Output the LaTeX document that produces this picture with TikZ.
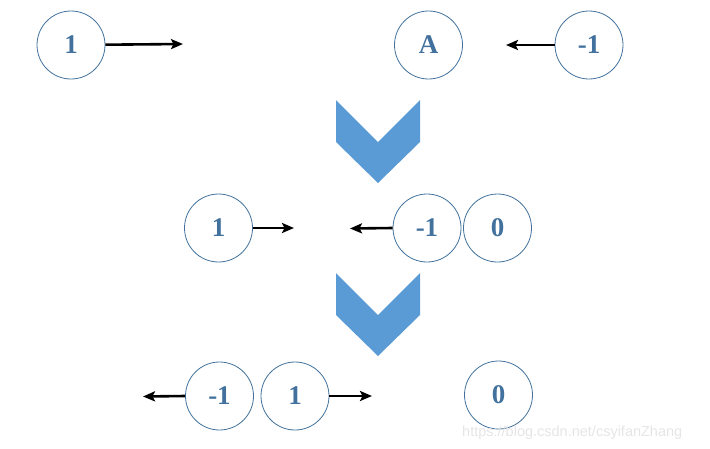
\documentclass[tikz,border=0pt]{standalone}
\usepackage{fontspec}
\setmainfont{Liberation Serif}
\newfontfamily\wmfont{Liberation Sans}
\usetikzlibrary{arrows.meta}
\definecolor{cstroke}{HTML}{41719C}
\definecolor{ctext}{HTML}{41719C}
\definecolor{chev}{HTML}{5B9BD5}
\begin{document}
\begin{tikzpicture}[x=1pt,y=-1pt,
  numnode/.style={circle,draw=cstroke,line width=0.8pt,minimum size=68pt,inner sep=0pt,
    text=ctext,font=\fontsize{27}{27}\selectfont\bfseries},
  arr/.style={line width=2.6pt,-{Stealth[length=12pt,width=10pt,inset=2.5pt]}},
  chevshape/.style={fill=chev,draw=none}]
\useasboundingbox (0,0) rectangle (710,448);
% top row
\node[numnode] (t1) at (71,45) {1};
\coordinate (t1e) at (183,44);
\draw[arr] (t1) -- (t1e);
\node[numnode] (tA) at (428.5,45) {A};
\node[numnode] (tm1) at (589,45) {-1};
\coordinate (tm1e) at (506,45);
\draw[arr] (tm1.west) -- (tm1e);
% chevron 1
\fill[chevshape] (336,100) -- (378,142) -- (420,100) -- (420,142) -- (378,183) -- (336,142) -- cycle;
% middle row
\node[numnode] (m1) at (218.5,228) {1};
\coordinate (m1e) at (294,228);
\draw[arr] (m1.east) -- (m1e);
\node[numnode] (mm1) at (427,228) {-1};
\node[numnode] (m0) at (497.5,228) {0};
\coordinate (mm1e) at (350,228.5);
\draw[arr] (mm1.west) -- (mm1e);
% chevron 2
\fill[chevshape] (336,273) -- (378,315) -- (420,273) -- (420,315) -- (378,356) -- (336,315) -- cycle;
% bottom row
\node[numnode] (bm1) at (219.5,396) {-1};
\node[numnode] (b1) at (295,396) {1};
\node[numnode] (b0) at (498.5,395) {0};
\coordinate (bm1e) at (143,396.5);
\coordinate (b1e) at (372,396);
\draw[arr] (bm1.west) -- (bm1e);
\draw[arr] (b1.east) -- (b1e);
% watermark
\node[anchor=base west,inner sep=0pt,text=black!10,font=\wmfont\fontsize{14.5}{14.5}\selectfont] (wm) at (462,436) {https://blog.csdn.net/csyifanZhang};
\end{tikzpicture}
\end{document}
